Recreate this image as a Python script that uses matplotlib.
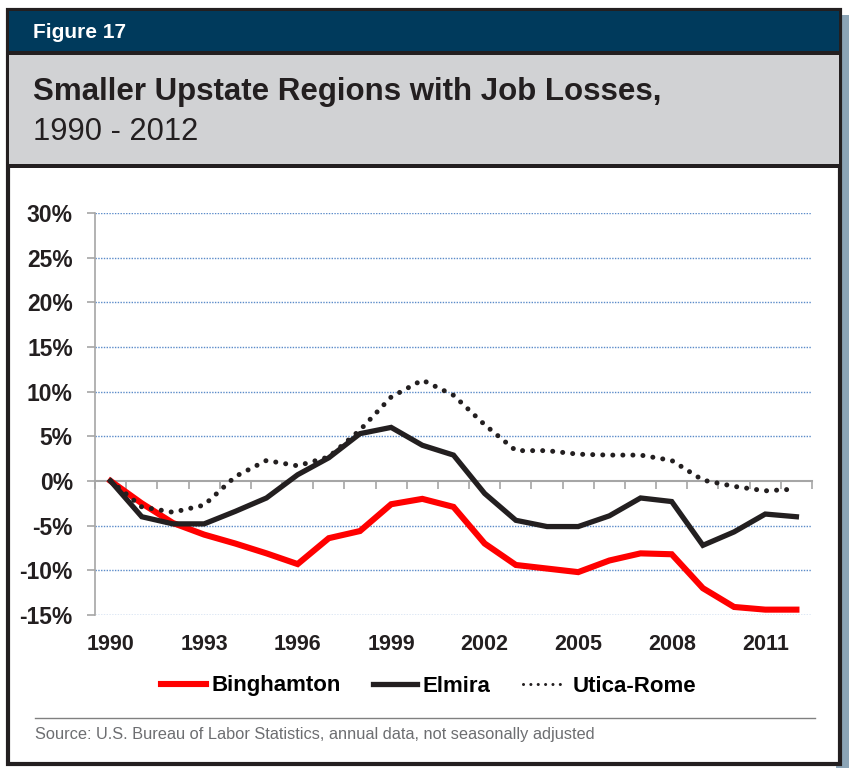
import matplotlib
matplotlib.use("Agg")
from matplotlib import pyplot as plt
from matplotlib.patches import Rectangle
from matplotlib.lines import Line2D

# values (% change in jobs since 1990)
years = list(range(1990, 2013))
binghamton = [0, -2.5, -4.7, -6.0, -7.0, -8.1, -9.3, -6.4, -5.6, -2.6, -2.0, -2.9,
              -7.0, -9.4, -9.8, -10.2, -8.9, -8.1, -8.2, -12.0, -14.1, -14.4, -14.4]
elmira = [0, -4.0, -4.8, -4.8, -3.4, -1.9, 0.7, 2.6, 5.3, 6.0, 4.0, 2.9,
          -1.4, -4.4, -5.1, -5.1, -3.9, -1.9, -2.3, -7.2, -5.7, -3.7, -4.0]
utica_rome = [0, -2.9, -3.5, -2.7, 0.5, 2.3, 1.7, 2.7, 5.7, 9.4, 11.3, 9.6,
              6.3, 3.4, 3.4, 3.0, 2.9, 2.9, 2.3, 0.1, -0.6, -1.1, -0.9]
yticks = [-15, -10, -5, 0, 5, 10, 15, 20, 25, 30]
xlabel_years = [1990, 1993, 1996, 1999, 2002, 2005, 2008, 2011]

W, H = 849, 768
fig = plt.figure(figsize=(W / 100, H / 100), dpi=100)
fig.patch.set_facecolor("white")

dark = "#231f20"
sans = ["Liberation Sans", "DejaVu Sans"]


def box(x0, y0, x1, y1, **kw):
    # rectangle given in pixel coords from the top-left corner
    fig.patches.append(Rectangle((x0 / W, 1 - y1 / H), (x1 - x0) / W, (y1 - y0) / H,
                                 transform=fig.transFigure, zorder=-5, **kw))


# shadow, frame, header bands
box(836, 15, 849, 768, facecolor="#8ba4b6", edgecolor="none")
box(8, 10, 840, 764, facecolor="white", edgecolor=dark, linewidth=3)
box(9, 11, 839, 51, facecolor="#003a5c", edgecolor="none")
box(9, 51, 839, 55, facecolor=dark, edgecolor="none")
box(9, 55, 839, 164, facecolor="#d1d2d4", edgecolor="none")
box(9, 164, 839, 168, facecolor=dark, edgecolor="none")

fig.text(33 / W, 1 - 33 / H, "Figure 17", color="white", fontsize=15, fontweight="bold",
         family=sans, va="center", ha="left")
fig.text(33 / W, 1 - 92 / H, "Smaller Upstate Regions with Job Losses,", color=dark,
         fontsize=22.5, fontweight="bold", family=sans, va="center")
fig.text(33 / W, 1 - 132 / H, "1990 - 2012", color=dark, fontsize=22.2,
         family=sans, va="center")

ax = fig.add_axes([95 / W, 1 - 615 / H, (812 - 95) / W, (615 - 213) / H])
ax.patch.set_alpha(0)
ax.plot(years, binghamton, color="#ff0000", lw=4.4, solid_joinstyle="miter", zorder=3)
ax.plot(years, elmira, color=dark, lw=3.8, solid_joinstyle="miter", zorder=4)
ax.plot(years, utica_rome, color=dark, lw=3.6, linestyle=(0, (0.01, 2.0)),
        dash_capstyle="round", zorder=5)

ax.set_xlim(1989.5, 2012.5)
ax.set_ylim(-15, 30)
ax.set_yticks(yticks)
ax.set_yticklabels([f"{v}%" for v in yticks])
for v in yticks:
    if v != 0:
        ax.axhline(v, color="#5b8bc9", lw=1, linestyle=(0, (1, 1)), zorder=1)

for s in ["top", "right", "bottom"]:
    ax.spines[s].set_visible(False)
ax.spines["left"].set_color("#a6a6a6")
ax.spines["left"].set_linewidth(1.2)
ax.tick_params(axis="y", length=6, width=1.2, color="#a6a6a6", labelsize=16.5,
               labelcolor=dark, pad=10)
for lab in ax.get_yticklabels():
    lab.set_fontweight("bold")
    lab.set_family(sans)

ax.set_xticks(xlabel_years)
ax.set_xticklabels([str(y) for y in xlabel_years])
ax.tick_params(axis="x", length=0, labelsize=15.5, labelcolor=dark, pad=14)
for lab in ax.get_xticklabels():
    lab.set_fontweight("bold")
    lab.set_family(sans)

# category axis crossing at 0%
zero_ax = ax.secondary_xaxis(1 / 3)
zero_ax.set_xticks([y + 0.5 for y in range(1989, 2013)])
zero_ax.set_xticklabels([])
zero_ax.tick_params(length=6, width=1.2, color="#a6a6a6", direction="out")
zero_ax.spines["bottom"].set_color("#a6a6a6")
zero_ax.spines["bottom"].set_linewidth(1.5)
for s in ["top", "left", "right"]:
    zero_ax.spines[s].set_visible(False)

handles = [Line2D([], [], color="#ff0000", lw=4.4),
           Line2D([], [], color=dark, lw=3.8),
           Line2D([], [], color=dark, lw=2.2, linestyle=(0, (0.01, 2.4)), dash_capstyle="round")]
leg = fig.legend(handles, ["Binghamton", "Elmira", "Utica-Rome"], loc="center",
                 bbox_to_anchor=(429 / W, 1 - 686 / H), ncol=3, frameon=False,
                 handlelength=2.0, handletextpad=0.25, columnspacing=1.45,
                 prop={"family": sans, "weight": "bold", "size": 16})

fig.lines.append(Line2D([35 / W, 815 / W], [1 - 718 / H, 1 - 718 / H], color="#808080",
                        lw=1, transform=fig.transFigure))
fig.text(35 / W, 1 - 734 / H, "Source: U.S. Bureau of Labor Statistics, annual data, not seasonally adjusted",
         color="#6d6e71", fontsize=11.8, family=sans, va="center")

fig.savefig("out.png", dpi=100)
